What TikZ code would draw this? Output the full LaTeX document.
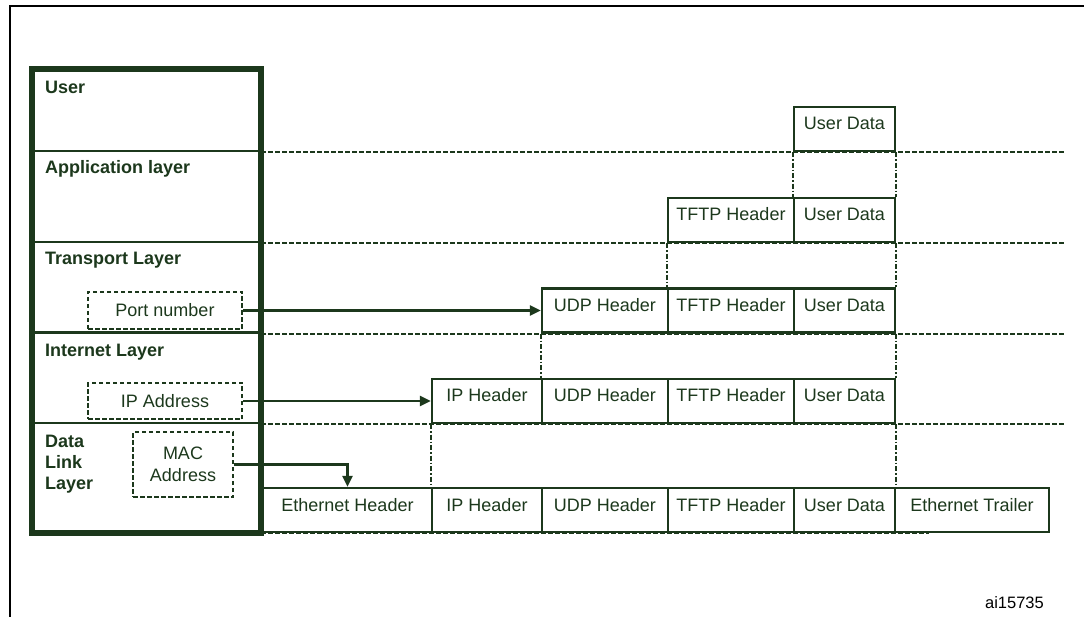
\documentclass[tikz,border=0pt]{standalone}
\usepackage{fontspec}
\setmainfont{Liberation Sans}
\usetikzlibrary{arrows.meta}
\definecolor{dkgreen}{HTML}{1C381C}
\begin{document}
\begin{tikzpicture}[x=1pt,y=-1pt,
  cell/.style={draw=dkgreen, line width=2.4pt, inner sep=0pt, minimum height=44pt,
    text height=11pt, text depth=9pt, text=dkgreen, font=\fontsize{18}{21}\selectfont},
  layer/.style={draw=dkgreen, line width=2.8pt, inner sep=0pt, minimum width=227pt},
  lbl/.style={anchor=base west, inner sep=0pt, text=dkgreen, font=\fontsize{18}{21}\selectfont\bfseries, align=left},
  addr/.style={draw=dkgreen, line width=2pt, dash pattern=on 4.5pt off 2.5pt, inner sep=0pt,
    text=dkgreen, font=\fontsize{18}{22}\selectfont, align=center},
  sepline/.style={draw=dkgreen, line width=2pt, dash pattern=on 4.5pt off 2.5pt},
  dashdot/.style={draw=dkgreen, line width=2pt, dash pattern=on 5pt off 2pt on 1.5pt off 2pt},
  arr/.style={draw=dkgreen, line width=2.4pt, -{Triangle[length=11pt,width=10pt]}}
]
\useasboundingbox (0,0) rectangle (1084,617);
% outer frame
\draw[black, line width=2.5pt] (10,620) -- (10,6) -- (1090,6);

% layers
\node[layer, minimum height=81pt] (user) at (146.5,110.5) {};
\node[layer, minimum height=91pt] (app) at (146.5,196.5) {};
\node[layer, minimum height=90.5pt] (trans) at (146.5,287.25) {};
\node[layer, minimum height=90.5pt] (inet) at (146.5,377.75) {};
\node[layer, minimum height=109pt] (dl) at (146.5,477.5) {};

\node[lbl] (luser) at (45,94) {User};
\node[lbl] (lapp) at (45,174) {Application layer};
\node[lbl] (ltrans) at (45,265) {Transport Layer};
\node[lbl] (linet) at (45,356) {Internet Layer};
\node[lbl] (ldl) at (45,489) {Data\\Link\\Layer};

% address boxes
\node[addr, minimum width=154pt, minimum height=37pt, text height=13pt, text depth=0pt] (port) at (165,310.5) {Port number};
\node[addr, minimum width=154pt, minimum height=36pt, text height=13pt, text depth=0pt] (ipaddr) at (165,401) {IP Address};
\node[addr, minimum width=100pt, minimum height=65pt] (mac) at (183,464.5) {MAC\\Address};

% row 1
\node[cell, minimum width=101pt] (ud1) at (844.5,129) {User Data};
% row 2
\node[cell, minimum width=126pt] (tftp2) at (731,220) {TFTP Header};
\node[cell, minimum width=101pt] (ud2) at (844.5,220) {User Data};
% row 3
\node[cell, minimum width=126pt] (udp3) at (605,310.5) {UDP Header};
\node[cell, minimum width=126pt] (tftp3) at (731,310.5) {TFTP Header};
\node[cell, minimum width=101pt] (ud3) at (844.5,310.5) {User Data};
% row 4
\node[cell, minimum width=110pt] (ip4) at (487,401) {IP Header};
\node[cell, minimum width=126pt] (udp4) at (605,401) {UDP Header};
\node[cell, minimum width=126pt] (tftp4) at (731,401) {TFTP Header};
\node[cell, minimum width=101pt] (ud4) at (844.5,401) {User Data};
% row 5
\node[cell, minimum width=169pt] (eh5) at (347.5,510) {Ethernet Header};
\node[cell, minimum width=110pt] (ip5) at (487,510) {IP Header};
\node[cell, minimum width=126pt] (udp5) at (605,510) {UDP Header};
\node[cell, minimum width=126pt] (tftp5) at (731,510) {TFTP Header};
\node[cell, minimum width=101pt] (ud5) at (844.5,510) {User Data};
\node[cell, minimum width=154pt] (et5) at (972,510) {Ethernet Trailer};

% thick outer box of the stack
\draw[dkgreen, line width=6pt] (user.north west) rectangle (dl.south east);

% dashed layer separators
\draw[sepline] (user.south east) -- +(805,0);
\draw[sepline] (app.south east) -- +(805,0);
\draw[sepline] (trans.south east) -- +(805,0);
\draw[sepline] (inet.south east) -- +(805,0);
\draw[sepline] (dl.south east) -- +(668,0);

% dash-dot verticals
\draw[dashdot] (ud1.south west) -- (ud2.north west);
\draw[dashdot] (ud1.south east) -- (ud2.north east);
\draw[dashdot] (tftp2.south west) -- (tftp3.north west);
\draw[dashdot] (ud2.south east) -- (ud3.north east);
\draw[dashdot] (udp3.south west) -- (udp4.north west);
\draw[dashdot] (ud3.south east) -- (ud4.north east);
\draw[dashdot] (ip4.south west) -- (ip5.north west);
\draw[dashdot] (ud4.south east) -- (ud5.north east);

% arrows
\draw[arr] (port.east) -- (udp3.west);
\draw[arr] (ipaddr.east) -- (ip4.west);
\draw[arr] (mac.east) -| (eh5.north);

\node[anchor=base east, inner sep=0pt, font=\fontsize{16.5}{18}\selectfont] (code) at (1044,608) {ai15735};
\end{tikzpicture}
\end{document}
